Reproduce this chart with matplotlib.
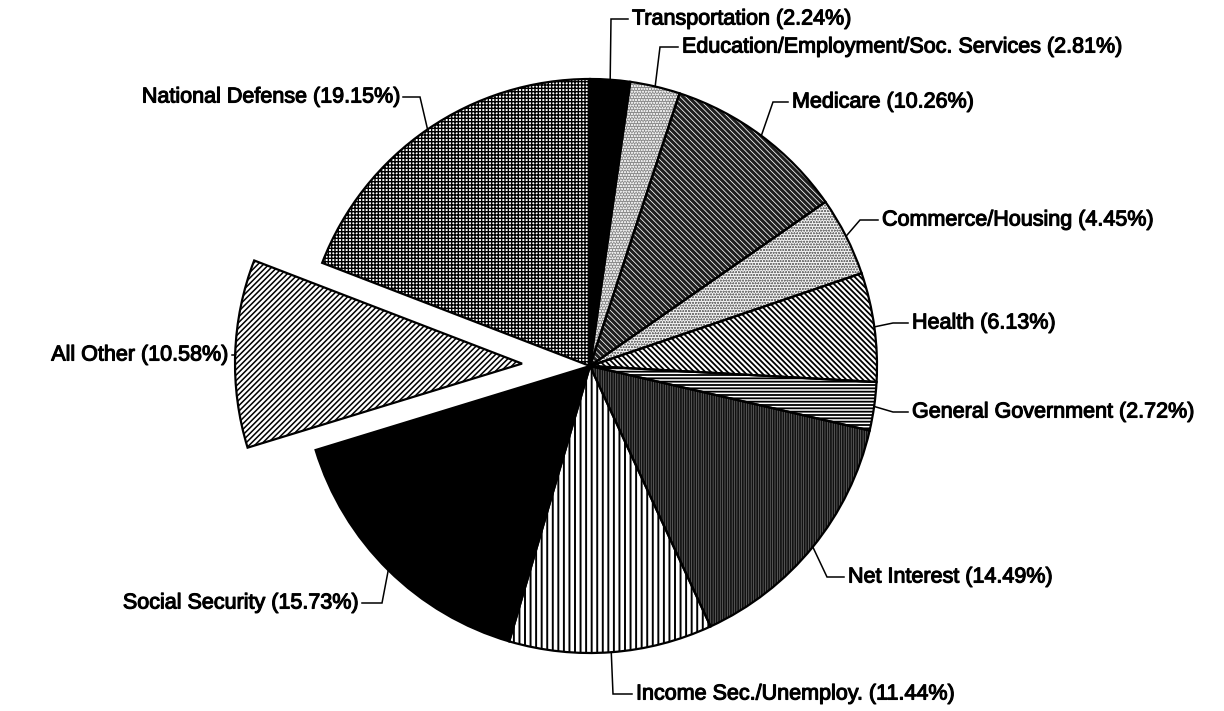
import numpy as np
import matplotlib
matplotlib.use("Agg")
import matplotlib.pyplot as plt
import matplotlib.patheffects as pe

# spending shares, clockwise from 12 o'clock
categories = ['Transportation', 'Education/Employment/Soc. Services', 'Medicare',
              'Commerce/Housing', 'Health', 'General Government', 'Net Interest',
              'Income Sec./Unemploy.', 'Social Security', 'All Other', 'National Defense']
shares = [2.24, 2.81, 10.26, 4.45, 6.13, 2.72, 14.49, 11.44, 15.73, 10.58, 19.15]
exploded = 'All Other'

# fill style per slice: (facecolor, hatch, hatch colour, hatch width)
styles = [
    ('black', None, 'black', 1.0),
    ('#8c8c8c', 'oooooo', '#e8e8e8', 0.5),
    ('#1e1e1e', '\\' * 6, 'white', 0.55),
    ('#f2f2f2', 'oooooo', '#777777', 0.5),
    ('white', '\\' * 6, 'black', 1.3),
    ('white', '-----', 'black', 1.3),
    ('#111111', '|' * 7, '#7a7a7a', 0.45),
    ('white', '|||', 'black', 1.4),
    ('black', None, 'black', 1.0),
    ('white', '/' * 6, 'black', 1.1),
    ('white', '+' * 5, 'black', 1.0),
]

# label placement in image pixels: text x, text y, bend x, alignment
label_pos = [
    (632, 19, 611, 'left'),
    (682, 47, 660, 'left'),
    (792, 102, 773, 'left'),
    (882, 220, 860, 'left'),
    (912, 323, 893, 'left'),
    (912, 412, 893, 'left'),
    (848, 577, 827, 'left'),
    (636, 694, 613, 'left'),
    (358, 603, 382, 'right'),
    (228, 355, 236, 'right'),
    (399, 97, 420, 'right'),
]

W, H = 1224, 711
cx, cy, R = 590, 366, 287


def to_data(px, py):
    return (px - cx) / R, (cy - py) / R


plt.rcParams['font.family'] = ['Liberation Sans', 'DejaVu Sans']
plt.rcParams['hatch.linewidth'] = 1.0

fig = plt.figure(figsize=(W / 100, H / 100), dpi=100)
ax = fig.add_axes([0, 0, 1, 1])

explode = [0.237 if c == exploded else 0 for c in categories]

wedges, _ = ax.pie(shares, startangle=90, counterclock=False, explode=explode,
                   radius=1, colors=[s[0] for s in styles],
                   wedgeprops=dict(linewidth=0))
for w, (fc, hatch, hc, hlw) in zip(wedges, styles):
    w.set_edgecolor(hc)
    if hatch:
        w.set_hatch(hatch)
        # per-slice hatch width (private attr is what the renderer reads)
        w._hatch_linewidth = hlw

# outlines on top
outl, _ = ax.pie(shares, startangle=90, counterclock=False, explode=explode,
                 radius=1, colors=['none'] * len(shares),
                 wedgeprops=dict(linewidth=1.6, edgecolor='black'))

for w, cat, val, (tx, ty, bx, ha) in zip(wedges, categories, shares, label_pos):
    tm = np.deg2rad((w.theta1 + w.theta2) / 2)
    ex = w.center[0] + w.r * np.cos(tm)
    ey = w.center[1] + w.r * np.sin(tm)
    bxd, tyd = to_data(bx, ty)
    gap = 4 if ha == 'left' else -4
    txd, _ = to_data(tx - gap, ty)
    ax.plot([ex, bxd, txd], [ey, tyd, tyd], color='black', lw=1.1,
            solid_joinstyle='miter')
    lx, ly = to_data(tx, ty)
    ax.text(lx, ly, f'{cat} ({val:.2f}%)', ha=ha, va='center', fontsize=15.5,
            color='black',
            path_effects=[pe.withStroke(linewidth=0.8, foreground='black')])

x0, _ = to_data(0, 0)
x1, _ = to_data(W, 0)
_, y0 = to_data(0, H)
_, y1 = to_data(0, 0)
ax.set_aspect('auto')
ax.set_xlim(x0, x1)
ax.set_ylim(y0, y1)
ax.axis('off')

fig.savefig('out.png', dpi=100, facecolor='white')
